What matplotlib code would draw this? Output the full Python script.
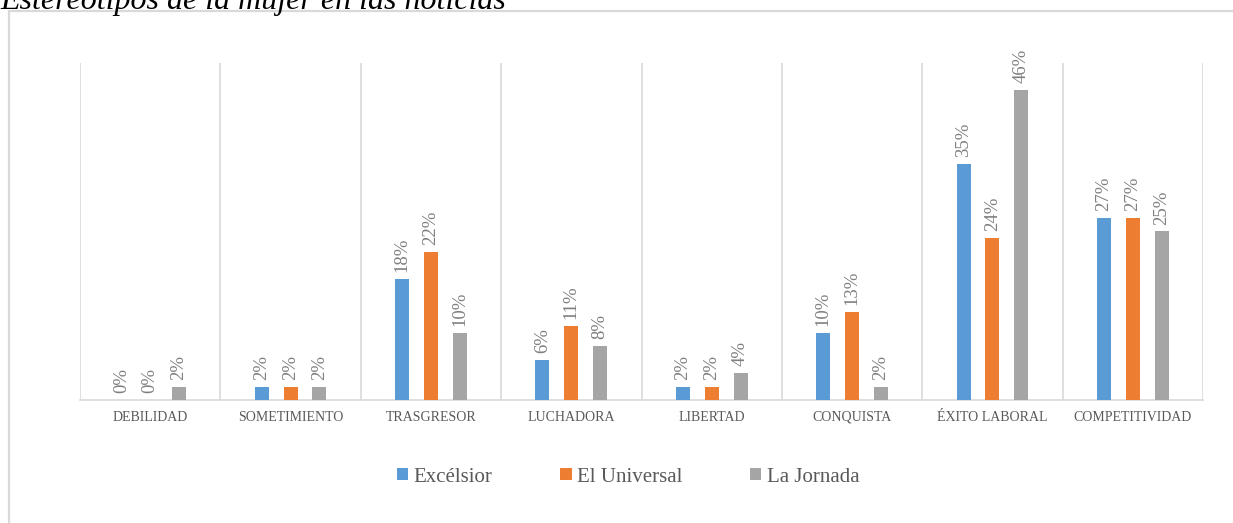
import matplotlib
matplotlib.use("Agg")
import matplotlib.pyplot as plt
import numpy as np
from matplotlib.patches import Rectangle

categories = ["DEBILIDAD", "SOMETIMIENTO", "TRASGRESOR", "LUCHADORA",
              "LIBERTAD", "CONQUISTA", "ÉXITO LABORAL", "COMPETITIVIDAD"]
excelsior = [0, 2, 18, 6, 2, 10, 35, 27]
el_universal = [0, 2, 22, 11, 2, 13, 24, 27]
la_jornada = [2, 2, 10, 8, 4, 2, 46, 25]
series_names = ["Excélsior", "El Universal", "La Jornada"]
colors = ["#5b9bd5", "#ed7d31", "#a5a5a5"]

plt.rcParams['font.family'] = ['Liberation Serif', 'DejaVu Serif']

W, H = 1233, 523
fig = plt.figure(figsize=(W / 100, H / 100), dpi=100)

# outer chart border
fig.patches.append(Rectangle((9 / W, -0.05), 1.2, 1 - 11 / H + 0.05,
                             transform=fig.transFigure, fill=False,
                             edgecolor="#d9d9d9", linewidth=1.6, zorder=0))

# partially clipped title (cut at the top edge, as in the reference)
fig.text(0 / W, 1 - 9 / H, "Estereotipos de la mujer en las noticias",
         fontsize=23, fontstyle="italic", color="black", va="baseline", ha="left")

ax = fig.add_axes([80 / W, 1 - 400 / H, (1203 - 80) / W, (400 - 63) / H])

x = np.arange(len(categories))
off = 0.206
bw = 0.1
data = [excelsior, el_universal, la_jornada]
for i, (vals, name, c) in enumerate(zip(data, series_names, colors)):
    pos = x + (i - 1) * off
    v = np.array(vals) / 100
    ax.bar(pos, v, width=bw, color=c, label=name, zorder=3)
    for p, val in zip(pos, vals):
        ax.annotate(f"{val}%", (p, val / 100), xytext=(0, 5),
                    textcoords="offset points", rotation=90, ha="center",
                    va="bottom", fontsize=13.5, color="#7f7f7f")

ax.set_xlim(-0.5, len(categories) - 0.5)
ax.set_ylim(0, 0.5)
ax.set_yticks([])
ax.set_xticks(x)
ax.set_xticklabels(categories, fontsize=10, color="#595959", va="baseline")
ax.tick_params(axis="x", length=0, pad=15)
for b in np.arange(-0.5, len(categories), 1.0):
    ax.axvline(b, color="#d9d9d9", linewidth=1.2, zorder=1)
for s in ["top", "left", "right"]:
    ax.spines[s].set_visible(False)
ax.spines["bottom"].set_color("#d9d9d9")
ax.spines["bottom"].set_linewidth(1.2)

leg = fig.legend(loc="center", bbox_to_anchor=(628 / W, 1 - 477 / H), ncol=3,
                 frameon=False, fontsize=15, handlelength=0.55, handleheight=0.55,
                 handletextpad=0.25, columnspacing=3.25)
for t in leg.get_texts():
    t.set_color("#595959")

fig.savefig("out.png", dpi=100)
